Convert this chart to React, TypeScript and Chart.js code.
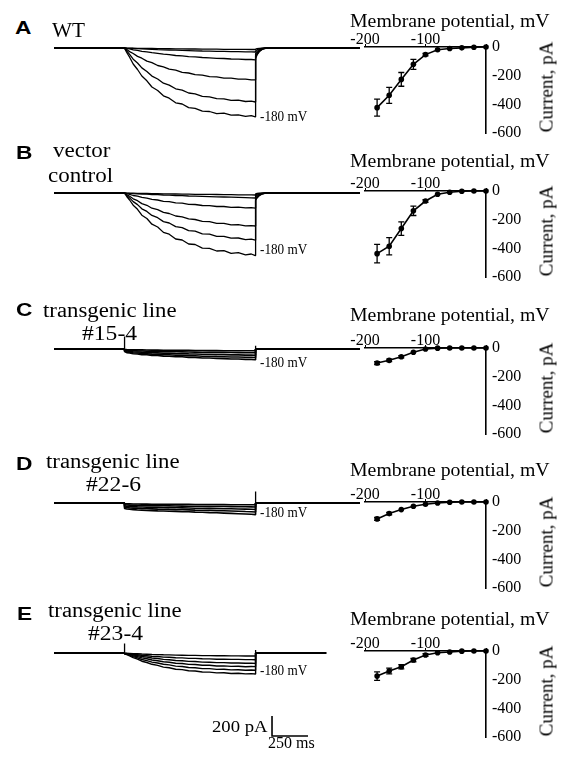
import React, { useEffect, useRef } from 'react';
import { Chart, registerables } from 'chart.js';

Chart.register(...registerables);

const SERIF = '"Liberation Serif", "Times New Roman", serif';
const SANS = '"Liberation Sans", Arial, sans-serif';

// ---------- I–V curves (membrane potential, mV → current, pA) ----------
const voltages = [-180, -160, -140, -120, -100, -80, -60, -40, -20, 0];
const ivWT = [-423, -337, -226, -121, -53, -19, -10, -6, -2, 0];
const ivWTErr = [59, 56, 48, 35, 9, 4, 3, 2, 2, 2];
const ivVector = [-437, -385, -262, -138, -70, -23, -9, -2, 0, 0];
const ivVectorErr = [64, 60, 47, 33, 9, 4, 3, 2, 2, 2];
const ivLine15 = [-105, -86, -61, -30, -7, -1, 0, 0, 0, 0];
const ivLine15Err = [10, 9, 8, 6, 4, 2, 2, 2, 2, 2];
const ivLine22 = [-118, -81, -53, -30, -16, -7, -2, 0, 0, 0];
const ivLine22Err = [10, 8, 7, 5, 4, 3, 2, 2, 2, 2];
const ivLine23 = [-175, -140, -110, -63, -28, -12, -7, -1, 0, 0];
const ivLine23Err = [30, 20, 15, 12, 10, 4, 3, 2, 2, 2];

// ---------- current traces (time, ms → current, pA) ----------
const preTimes = [0, 489];
const stepTimes = [490, 505, 525, 550, 580, 610, 645, 680, 720, 760, 800, 845, 890, 935, 980, 1030, 1080, 1130, 1180, 1230, 1280, 1330, 1370, 1398];
const tailTimes = [1400, 1410, 1425, 1445, 1470];
const scaleBarTimes = [1514, 1514, 1764];
const scaleBarCurrents = [-630, -830, -830];

const wtSweeps = [
  [0, -45, -92, -160, -215, -280, -328, -390, -425, -478, -502, -548, -560, -596, -603, -632, -635, -656, -652, -672, -668, -684, -676, -688],
  [0, -30, -64, -112, -150, -199, -235, -281, -310, -352, -371, -408, -421, -450, -458, -484, -488, -507, -508, -524, -522, -535, -532, -540],
  [0, -15, -36, -55, -84, -102, -131, -147, -175, -188, -211, -221, -243, -250, -267, -271, -287, -289, -301, -302, -312, -311, -319, -318],
  [0, -5, -9, -18, -23, -33, -38, -47, -53, -62, -66, -75, -79, -86, -89, -95, -98, -103, -105, -110, -111, -115, -115, -118],
  [0, -2, -3, -5, -7, -9, -11, -13, -16, -18, -20, -22, -24, -26, -28, -30, -31, -33, -34, -36, -37, -38, -39, -40],
  [0, -1, -1, -2, -3, -3, -4, -5, -6, -7, -7, -8, -9, -10, -10, -11, -12, -12, -13, -13, -14, -14, -15, -15],
];
const wtTails = [
  [-105, -70, -38, -14, -3],
  [-95, -62, -33, -12, -2],
  [-80, -50, -26, -9, -2],
  [-55, -34, -17, -6, -1],
  [-30, -18, -9, -3, 0],
  [-12, -7, -3, -1, 0],
];

const vectorSweeps = [
  [0, -35, -70, -122, -163, -222, -255, -312, -340, -394, -412, -460, -470, -510, -515, -552, -553, -580, -577, -603, -596, -618, -610, -626],
  [0, -24, -49, -86, -116, -158, -184, -224, -247, -286, -300, -336, -346, -376, -382, -409, -412, -434, -433, -452, -450, -466, -462, -472],
  [0, -16, -32, -58, -77, -106, -123, -152, -167, -194, -205, -230, -239, -259, -265, -284, -287, -303, -304, -318, -316, -328, -326, -330],
  [0, -7, -13, -25, -31, -44, -51, -64, -70, -83, -87, -99, -102, -113, -115, -125, -126, -135, -135, -143, -142, -148, -147, -151],
  [0, -2, -4, -6, -8, -10, -12, -15, -17, -20, -22, -25, -27, -30, -32, -34, -36, -38, -40, -42, -44, -46, -48, -50],
  [0, -1, -2, -2, -3, -4, -5, -6, -7, -8, -9, -10, -11, -12, -13, -14, -14, -15, -16, -17, -18, -19, -19, -20],
];
const vectorTails = [
  [-75, -50, -27, -10, -2],
  [-65, -43, -23, -8, -2],
  [-50, -33, -17, -6, -1],
  [-35, -22, -11, -4, 0],
  [-20, -12, -6, -2, 0],
  [-8, -5, -2, -1, 0],
];

const line15Sweeps = [
  [-25, -36, -40, -47, -50, -57, -58, -64, -65, -71, -72, -78, -78, -84, -84, -90, -90, -95, -96, -100, -100, -104, -104, -107],
  [-20, -28, -32, -37, -40, -45, -47, -51, -53, -57, -58, -62, -63, -67, -68, -72, -72, -76, -77, -80, -80, -83, -83, -85],
  [-15, -20, -24, -27, -30, -33, -35, -38, -39, -42, -43, -46, -47, -49, -50, -53, -53, -56, -56, -59, -59, -61, -61, -62],
  [-10, -13, -15, -17, -19, -20, -22, -23, -24, -26, -27, -28, -29, -30, -31, -32, -33, -34, -34, -35, -36, -37, -37, -38],
  [-5, -6, -7, -8, -9, -9, -10, -11, -11, -12, -13, -13, -14, -14, -15, -15, -16, -16, -17, -17, -17, -18, -18, -18],
];
const line22Sweeps = [
  [-55, -60, -63, -66, -70, -72, -75, -76, -79, -80, -83, -84, -87, -88, -91, -93, -96, -98, -101, -104, -107, -110, -113, -116],
  [-42, -46, -49, -51, -54, -56, -58, -59, -61, -62, -64, -66, -67, -69, -71, -72, -74, -76, -78, -80, -82, -85, -87, -90],
  [-30, -33, -35, -37, -39, -40, -42, -43, -44, -45, -47, -48, -49, -50, -52, -53, -54, -55, -57, -58, -60, -61, -63, -65],
  [-18, -20, -21, -22, -24, -25, -26, -27, -27, -28, -29, -30, -31, -32, -32, -33, -34, -35, -35, -36, -37, -38, -39, -40],
  [-8, -9, -9, -10, -10, -11, -11, -12, -12, -13, -13, -14, -14, -14, -15, -15, -15, -16, -16, -17, -17, -17, -18, -18],
];
const line23Sweeps = [
  [-10, -15, -28, -46, -62, -82, -95, -113, -124, -141, -148, -162, -166, -178, -180, -190, -191, -199, -198, -205, -203, -209, -206, -210],
  [-8, -12, -22, -36, -49, -65, -76, -91, -100, -113, -119, -131, -135, -145, -147, -156, -156, -164, -163, -169, -167, -172, -170, -173],
  [-6, -9, -17, -27, -37, -49, -57, -70, -77, -88, -92, -103, -105, -114, -115, -123, -123, -130, -129, -134, -133, -137, -135, -136],
  [-4, -6, -12, -20, -26, -35, -41, -50, -55, -64, -67, -75, -77, -84, -85, -91, -92, -96, -96, -100, -100, -103, -102, -104],
  [-3, -4, -8, -12, -17, -22, -27, -32, -35, -41, -43, -48, -49, -54, -54, -58, -59, -62, -62, -64, -64, -66, -66, -67],
  [-2, -3, -4, -6, -8, -10, -12, -14, -16, -18, -19, -21, -22, -24, -24, -26, -26, -27, -28, -29, -29, -30, -30, -30],
];
const flatTail = [0, 0, 0, 0, 0];

// capacitive transients: [time, top, bottom]
const wtSpikes: number[][] = [];
const vectorSpikes: number[][] = [];
const line15Spikes = [[490, 125, 0], [1400, 33, 0]];
const line22Spikes = [[1400, 115, 0]];
const line23Spikes = [[490, 95, 0], [1400, 30, 0]];

type TraceProps = {
  top: number;
  height: number;
  sweeps: number[][];
  tails: number[][];
  spikes: number[][];
  end: number;
  lineWidth: number;
  scaleBar?: boolean;
};

const TRACE_LEFT = 54;
const TRACE_WIDTH = 306;
const TRACE_TMAX = 2125;
const TRACE_IMAX = 200; // pA shown above baseline
const PX_PER_PA = 0.1;

function TraceChart({ top, height, sweeps, tails, spikes, end, lineWidth, scaleBar }: TraceProps) {
  const ref = useRef<HTMLCanvasElement>(null);
  useEffect(() => {
    if (!ref.current) return;
    const black = '#000';
    const datasets: any[] = [];
    sweeps.forEach((vals, i) => {
      const pts: { x: number; y: number }[] = [];
      preTimes.forEach((t) => pts.push({ x: t, y: 0 }));
      stepTimes.forEach((t, k) => pts.push({ x: t, y: vals[k] }));
      tailTimes.forEach((t, k) => pts.push({ x: t, y: tails[i][k] }));
      pts.push({ x: end, y: 0 });
      datasets.push({
        data: pts,
        borderColor: black,
        borderWidth: lineWidth,
        pointRadius: 0,
        tension: 0,
        borderJoinStyle: 'bevel',
      });
    });
    spikes.forEach(([t, hi, lo]) =>
      datasets.push({
        data: [{ x: t, y: hi }, { x: t, y: lo }],
        borderColor: black,
        borderWidth: 1.3,
        pointRadius: 0,
      })
    );
    if (scaleBar) {
      datasets.push({
        data: scaleBarTimes.map((t, k) => ({ x: t, y: scaleBarCurrents[k] })),
        borderColor: black,
        borderWidth: 1.6,
        pointRadius: 0,
        borderJoinStyle: 'miter',
      });
    }
    const ymin = TRACE_IMAX - height / PX_PER_PA;
    const chart = new Chart(ref.current, {
      type: 'line',
      data: { datasets },
      options: {
        animation: false,
        responsive: false,
        maintainAspectRatio: false,
        layout: { padding: 0 },
        plugins: { legend: { display: false }, tooltip: { enabled: false } },
        scales: {
          x: { type: 'linear', min: 0, max: TRACE_TMAX, display: false },
          y: { type: 'linear', min: ymin, max: TRACE_IMAX, display: false },
        },
      },
    });
    return () => chart.destroy();
  }, []);
  return (
    <canvas
      ref={ref}
      width={TRACE_WIDTH}
      height={height}
      style={{ position: 'absolute', left: TRACE_LEFT, top, width: TRACE_WIDTH, height }}
    />
  );
}

type IVProps = { axisY: number; values: number[]; errors: number[] };

function IVChart({ axisY, values, errors }: IVProps) {
  const ref = useRef<HTMLCanvasElement>(null);
  useEffect(() => {
    if (!ref.current) return;
    const errPlugin = {
      id: 'errorBars',
      afterDatasetsDraw(chart: any) {
        const xs = chart.scales.x;
        const ys = chart.scales.y;
        const ctx = chart.ctx;
        ctx.save();
        ctx.strokeStyle = '#000';
        ctx.lineWidth = 1.3;
        voltages.forEach((v, i) => {
          const e = errors[i];
          if (e < 8) return;
          const px = xs.getPixelForValue(v);
          const y1 = ys.getPixelForValue(values[i] + e);
          const y2 = ys.getPixelForValue(values[i] - e);
          ctx.beginPath();
          ctx.moveTo(px, y1);
          ctx.lineTo(px, y2);
          ctx.moveTo(px - 3, y1);
          ctx.lineTo(px + 3, y1);
          ctx.moveTo(px - 3, y2);
          ctx.lineTo(px + 3, y2);
          ctx.stroke();
        });
        ctx.restore();
      },
    };
    const tickFont = { family: SERIF, size: 16, lineHeight: 1 };
    const chart = new Chart(ref.current, {
      type: 'line',
      data: {
        datasets: [
          {
            data: voltages.map((v, i) => ({ x: v, y: values[i] })),
            borderColor: '#000',
            borderWidth: 1.6,
            pointRadius: 2.8,
            pointBackgroundColor: '#000',
            pointBorderColor: '#000',
            pointBorderWidth: 0,
            tension: 0,
            clip: false,
          },
        ],
      },
      options: {
        animation: false,
        responsive: false,
        maintainAspectRatio: false,
        layout: { padding: { left: 25, top: 0, right: 0, bottom: 14 } },
        plugins: { legend: { display: false }, tooltip: { enabled: false } },
        scales: {
          x: {
            type: 'linear',
            position: 'top',
            min: -200,
            max: 0,
            afterFit: (s: any) => {
              s.height = 30;
            },
            ticks: {
              stepSize: 100,
              autoSkip: false,
              maxRotation: 0,
              padding: -4,
              color: '#000',
              font: tickFont,
              callback: (v: any) => (Number(v) === 0 ? '' : String(v)),
            },
            grid: { display: true, drawOnChartArea: false, drawTicks: true, tickLength: 3, color: '#000', lineWidth: 1 },
            border: { display: true, color: '#000', width: 1.6 },
          },
          y: {
            type: 'linear',
            position: 'right',
            min: -600,
            max: 0,
            afterFit: (s: any) => {
              s.width = 80;
            },
            ticks: { stepSize: 200, autoSkip: false, padding: 6, color: '#000', font: tickFont },
            grid: { display: false, drawTicks: false },
            border: { display: true, color: '#000', width: 1.6 },
          },
        },
      },
      plugins: [errPlugin],
    });
    return () => chart.destroy();
  }, []);
  return (
    <canvas
      ref={ref}
      width={226}
      height={130}
      style={{ position: 'absolute', left: 340, top: axisY - 30, width: 226, height: 130 }}
    />
  );
}

type TxtProps = {
  x: number;
  baseline: number;
  size: number;
  sans?: boolean;
  bold?: boolean;
  sx?: number;
  children: React.ReactNode;
};

function Txt({ x, baseline, size, sans, bold, sx = 1, children }: TxtProps) {
  const asc = sans ? 0.8465 : 0.8375;
  return (
    <div
      style={{
        position: 'absolute',
        left: x,
        top: baseline - asc * size,
        fontSize: size,
        lineHeight: 1,
        fontFamily: sans ? SANS : SERIF,
        fontWeight: bold ? 700 : 400,
        whiteSpace: 'nowrap',
        color: '#000',
        transform: `scaleX(${sx})`,
        transformOrigin: '0 0',
      }}
    >
      {children}
    </div>
  );
}

function YTitle({ cy }: { cy: number }) {
  return (
    <div
      style={{
        position: 'absolute',
        left: 546,
        top: cy,
        fontSize: 19,
        lineHeight: 1,
        fontFamily: SERIF,
        whiteSpace: 'nowrap',
        color: '#000',
        transform: 'translate(-50%, -50%) rotate(-90deg)',
      }}
    >
      Current, pA
    </div>
  );
}

const rows = [
  { letter: 'A', traceBase: 48, ivAxis: 47, sweeps: wtSweeps, tails: wtTails, spikes: wtSpikes, end: 2125, iv: ivWT, err: ivWTErr, titleBase: 27, mvBase: 122, lw: 1.3 },
  { letter: 'B', traceBase: 193, ivAxis: 191, sweeps: vectorSweeps, tails: vectorTails, spikes: vectorSpikes, end: 2125, iv: ivVector, err: ivVectorErr, titleBase: 167, mvBase: 255, lw: 1.3 },
  { letter: 'C', traceBase: 349, ivAxis: 348, sweeps: line15Sweeps, tails: line15Sweeps.map(() => flatTail), spikes: line15Spikes, end: 2125, iv: ivLine15, err: ivLine15Err, titleBase: 321, mvBase: 368, lw: 1.6 },
  { letter: 'D', traceBase: 503, ivAxis: 502, sweeps: line22Sweeps, tails: line22Sweeps.map(() => flatTail), spikes: line22Spikes, end: 2125, iv: ivLine22, err: ivLine22Err, titleBase: 476, mvBase: 518, lw: 1.6 },
  { letter: 'E', traceBase: 653, ivAxis: 651, sweeps: line23Sweeps, tails: line23Sweeps.map(() => flatTail), spikes: line23Spikes, end: 1890, iv: ivLine23, err: ivLine23Err, titleBase: 625, mvBase: 676, lw: 1.4 },
];

export default function App() {
  return (
    <div style={{ position: 'absolute', left: 0, top: 0, width: 566, height: 757, background: '#fff', overflow: 'hidden' }}>
      {rows.map((r, i) => (
        <React.Fragment key={r.letter}>
          <TraceChart
            top={r.traceBase - 20}
            height={i === 4 ? 108 : 100}
            sweeps={r.sweeps}
            tails={r.tails}
            spikes={r.spikes}
            end={r.end}
            lineWidth={r.lw}
            scaleBar={i === 4}
          />
          <IVChart axisY={r.ivAxis} values={r.iv} errors={r.err} />
          <Txt x={350} baseline={r.titleBase} size={18} sx={1.1}>
            Membrane potential, mV
          </Txt>
          <YTitle cy={r.ivAxis + 40} />
          <Txt x={260} baseline={r.mvBase} size={15} sx={0.88}>
            -180 mV
          </Txt>
        </React.Fragment>
      ))}

      <Txt x={15} baseline={35} size={17.5} sans bold sx={1.3}>A</Txt>
      <Txt x={52} baseline={36.5} size={20} sx={1.06}>WT</Txt>

      <Txt x={16} baseline={160} size={17.5} sans bold sx={1.3}>B</Txt>
      <Txt x={53} baseline={157} size={20} sx={1.15}>vector</Txt>
      <Txt x={48} baseline={182} size={20} sx={1.15}>control</Txt>

      <Txt x={16} baseline={317} size={17.5} sans bold sx={1.3}>C</Txt>
      <Txt x={43} baseline={317} size={20} sx={1.14}>transgenic line</Txt>
      <Txt x={82} baseline={340} size={20} sx={1.18}>#15-4</Txt>

      <Txt x={16} baseline={471} size={17.5} sans bold sx={1.3}>D</Txt>
      <Txt x={46} baseline={468} size={20} sx={1.14}>transgenic line</Txt>
      <Txt x={86} baseline={491} size={20} sx={1.18}>#22-6</Txt>

      <Txt x={17} baseline={621} size={17.5} sans bold sx={1.3}>E</Txt>
      <Txt x={48} baseline={617} size={20} sx={1.14}>transgenic line</Txt>
      <Txt x={88} baseline={640} size={20} sx={1.18}>#23-4</Txt>

      <Txt x={212} baseline={732} size={17} sx={1.1}>200 pA</Txt>
      <Txt x={268} baseline={748} size={16}>250 ms</Txt>
    </div>
  );
}
